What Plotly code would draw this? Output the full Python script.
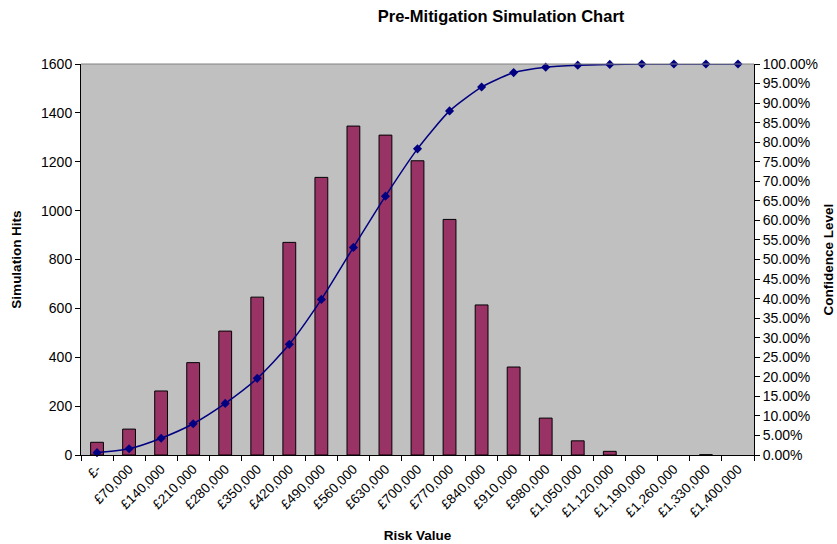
import plotly.graph_objects as go

# Risk value bins (GBP) and their axis labels
risk_labels = ["£-", "£70,000", "£140,000", "£210,000", "£280,000", "£350,000",
               "£420,000", "£490,000", "£560,000", "£630,000", "£700,000",
               "£770,000", "£840,000", "£910,000", "£980,000", "£1,050,000",
               "£1,120,000", "£1,190,000", "£1,260,000", "£1,330,000", "£1,400,000"]

# Simulation hits per bin
sim_hits = [52, 106, 262, 378, 507, 646, 870, 1136, 1346, 1309, 1204,
            964, 614, 360, 151, 58, 15, 0, 0, 1, 0]

# Cumulative confidence level per bin
confidence = [0.006, 0.016, 0.043, 0.080, 0.132, 0.196, 0.283, 0.398, 0.531,
              0.662, 0.783, 0.880, 0.941, 0.978, 0.992, 0.997, 0.999,
              1.0, 1.0, 1.0, 1.0]

hits_ticks = list(range(0, 1601, 200))
conf_ticks = [i / 100 for i in range(0, 101, 5)]

FONT = "Liberation Sans, Arial, sans-serif"

# empty bins get no outline so nothing is drawn on the baseline
outline_widths = [1 if v > 0 else 0 for v in sim_hits]

fig = go.Figure()
fig.add_trace(go.Bar(
    x=risk_labels, y=sim_hits, width=0.4,
    marker=dict(color="#993366", line=dict(color="#000000", width=outline_widths)),
    name="Simulation Hits", yaxis="y",
))
fig.add_trace(go.Scatter(
    x=risk_labels, y=confidence, yaxis="y2", mode="lines+markers",
    line=dict(color="#000080", width=1.5, shape="spline", smoothing=0.6),
    marker=dict(symbol="diamond", size=7, color="#000080"),
    name="Confidence Level", cliponaxis=False,
))

fig.update_layout(
    width=837, height=544,
    margin=dict(l=81, r=83, t=64, b=89),
    paper_bgcolor="white", plot_bgcolor="#C0C0C0",
    showlegend=False,
    font=dict(family=FONT, color="#000000", size=14),
    title=dict(text="<b>Pre-Mitigation Simulation Chart</b>",
               x=501 / 837, xanchor="center", y=1 - 16 / 544, yanchor="middle",
               font=dict(size=16.5, family=FONT)),
    xaxis=dict(
        type="category", range=[-0.5, 20.5], tickangle=-45, tickson="boundaries",
        ticks="outside", ticklen=5, tickcolor="#000000", automargin=False,
        showline=True, linecolor="#000000", linewidth=1,
        showgrid=False, tickfont=dict(size=13.5),
        title=dict(text="<b>Risk Value</b>", font=dict(size=13.5), standoff=11),
    ),
    yaxis=dict(
        range=[0, 1600], tickvals=hits_ticks, automargin=False,
        ticks="outside", ticklen=5, tickcolor="#000000",
        showline=True, linecolor="#000000", linewidth=1,
        showgrid=False, zeroline=False, tickfont=dict(size=14),
        title=dict(text="<b>Simulation Hits</b>", font=dict(size=13.5), standoff=16),
    ),
    yaxis2=dict(
        range=[0, 1], tickvals=conf_ticks, tickformat=".2%",
        overlaying="y", side="right", automargin=False,
        ticks="outside", ticklen=5, tickcolor="#000000",
        showline=True, linecolor="#000000", linewidth=1,
        showgrid=False, zeroline=False, tickfont=dict(size=14),
        title=dict(text="<b>Confidence Level</b>", font=dict(size=13.5), standoff=6),
    ),
)

# Plot-area frame along the top edge
fig.add_shape(type="line", xref="paper", yref="paper", x0=0, x1=1, y0=1, y1=1,
              line=dict(color="#808080", width=1))

fig.write_html("out.html")
